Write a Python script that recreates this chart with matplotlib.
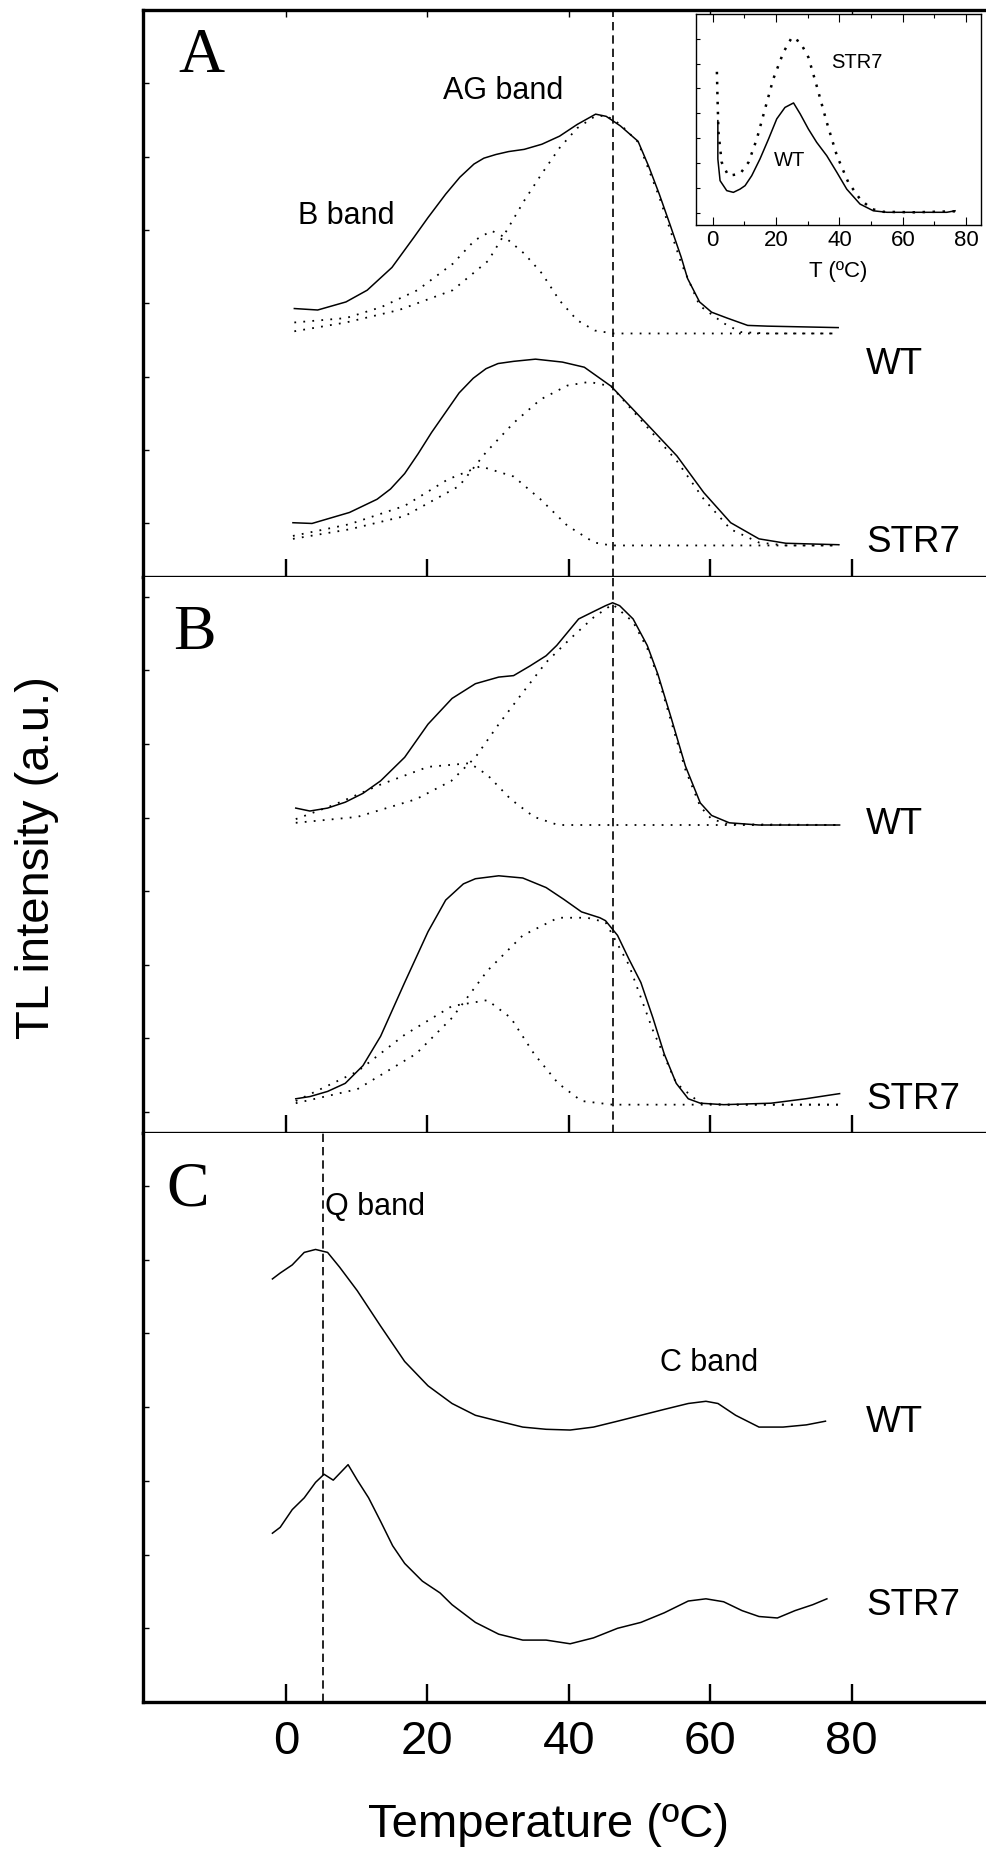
import matplotlib.pyplot as plt

plt.rcParams['font.family'] = ['Liberation Sans', 'DejaVu Sans']

# ---------------- data (TL intensity, a.u.) ----------------
# Panel A - WT (upper trace) and its B / AG band components
a_wt_t = [1.2, 4.5, 8.5, 11.5, 15.0, 18.1, 20.1, 22.6, 24.6, 26.6, 28.0, 29.7, 31.5, 33.7, 36.2, 38.7,
          41.2, 43.8, 45.3, 47.3, 49.8, 51.3, 52.8, 54.3, 55.9, 56.8, 58.5, 60.2, 62.4, 65.3, 68.1, 78.1]
a_wt_y = [2.93, 2.91, 3.02, 3.18, 3.49, 3.90, 4.17, 4.49, 4.72, 4.90, 4.98, 5.03, 5.07, 5.10, 5.17, 5.28,
          5.44, 5.58, 5.55, 5.42, 5.21, 4.87, 4.49, 4.08, 3.63, 3.34, 3.02, 2.88, 2.80, 2.70, 2.69, 2.67]
a_wt_b_t = [1.2, 8.5, 13.5, 18.6, 23.6, 26.7, 29.1, 31.0, 33.7, 36.2, 38.7, 41.2, 43.7, 46.3, 78.1]
a_wt_b_y = [2.74, 2.80, 2.95, 3.18, 3.54, 3.86, 3.99, 3.90, 3.68, 3.41, 3.04, 2.77, 2.63, 2.59, 2.59]
a_wt_ag_t = [1.2, 8.5, 16.0, 23.6, 28.6, 31.2, 33.7, 36.2, 38.7, 41.2, 43.7, 45.3, 47.3, 49.8,
             52.8, 55.9, 58.5, 61.9, 64.3, 68.0, 78.1]
a_wt_ag_y = [2.62, 2.74, 2.91, 3.18, 3.58, 3.99, 4.40, 4.77, 5.12, 5.39, 5.55, 5.56, 5.44, 5.20,
             4.45, 3.55, 2.97, 2.73, 2.61, 2.59, 2.59]

# Panel A - STR7 (lower trace)
a_str_t = [1.0, 3.7, 9.0, 12.9, 14.8, 16.8, 18.7, 20.6, 24.5, 26.5, 28.3, 30.0, 32.2, 35.3, 39.1, 42.2,
           46.0, 51.4, 55.3, 59.1, 62.9, 66.9, 70.7, 78.2]
a_str_y = [0.01, 0.00, 0.15, 0.33, 0.47, 0.68, 0.95, 1.24, 1.78, 1.98, 2.11, 2.18, 2.21, 2.24, 2.20, 2.13,
           1.87, 1.32, 0.92, 0.42, 0.01, -0.21, -0.27, -0.29]
a_str_b_t = [1.0, 9.0, 16.8, 22.9, 27.5, 32.2, 36.0, 39.8, 43.6, 46.0, 78.2]
a_str_b_y = [-0.17, -0.01, 0.24, 0.60, 0.78, 0.64, 0.33, -0.03, -0.26, -0.30, -0.30]
a_str_ag_t = [1.0, 9.0, 16.8, 24.5, 28.3, 32.2, 36.0, 39.8, 42.9, 46.0, 51.4, 55.3, 59.1, 62.9,
              66.9, 70.7, 78.2]
a_str_ag_y = [-0.21, -0.08, 0.10, 0.51, 0.97, 1.37, 1.69, 1.88, 1.93, 1.87, 1.28, 0.85, 0.33, -0.08,
              -0.26, -0.30, -0.30]

# Panel B - WT
b_wt_t = [1.4, 3.4, 5.9, 8.4, 10.9, 13.4, 16.8, 20.1, 23.5, 26.8, 30.1, 32.2, 34.5, 36.8, 38.3,
          41.4, 43.5, 45.2, 46.2, 47.2, 49.1, 51.1, 52.6, 54.5, 56.5, 58.6, 60.2, 62.7, 66.9, 78.3]
b_wt_y = [4.13, 4.09, 4.13, 4.21, 4.33, 4.50, 4.82, 5.27, 5.62, 5.82, 5.91, 5.93, 6.06, 6.20, 6.34,
          6.70, 6.80, 6.88, 6.92, 6.88, 6.70, 6.34, 5.95, 5.35, 4.70, 4.20, 4.03, 3.93, 3.90, 3.90]
b_wt_b_t = [1.4, 6.7, 13.4, 20.1, 26.0, 28.5, 31.8, 35.1, 38.5, 78.3]
b_wt_b_y = [3.98, 4.17, 4.45, 4.69, 4.74, 4.58, 4.25, 4.01, 3.90, 3.90]
b_wt_ag_t = [1.4, 10.1, 18.4, 23.4, 26.8, 30.1, 33.5, 36.8, 40.2, 43.5, 46.2, 49.1, 51.1, 52.6,
             54.5, 56.5, 58.6, 60.2, 62.7, 78.3]
b_wt_ag_y = [3.93, 4.01, 4.25, 4.50, 4.82, 5.27, 5.70, 6.11, 6.43, 6.72, 6.90, 6.66, 6.30, 5.92,
             5.30, 4.65, 4.15, 3.98, 3.91, 3.90]

# Panel B - STR7
b_str_t = [1.4, 3.4, 5.9, 8.4, 10.9, 13.4, 16.8, 20.1, 22.6, 25.1, 26.8, 30.1, 33.5, 36.8, 39.3,
           41.8, 44.4, 45.2, 46.9, 48.5, 50.2, 51.9, 53.5, 55.2, 56.9, 58.6, 61.9, 68.6, 73.5, 76.9, 78.3]
b_str_y = [0.18, 0.21, 0.28, 0.39, 0.63, 1.03, 1.76, 2.45, 2.88, 3.10, 3.17, 3.21, 3.18, 3.05, 2.89,
           2.72, 2.64, 2.60, 2.40, 2.08, 1.76, 1.28, 0.79, 0.39, 0.18, 0.12, 0.10, 0.12, 0.18, 0.23, 0.25]
b_str_b_t = [1.4, 10.1, 16.8, 23.5, 28.5, 31.8, 35.1, 38.5, 41.8, 46.2, 78.3]
b_str_b_y = [0.15, 0.55, 1.05, 1.44, 1.52, 1.28, 0.79, 0.39, 0.15, 0.10, 0.10]
b_str_ag_t = [1.4, 10.1, 18.4, 23.5, 28.5, 33.5, 38.5, 42.6, 45.2, 48.5, 51.9, 55.2, 58.6, 62.0, 78.3]
b_str_ag_y = [0.12, 0.31, 0.79, 1.28, 1.92, 2.40, 2.64, 2.64, 2.58, 2.00, 1.11, 0.39, 0.12, 0.10, 0.10]

# Panel C - WT and STR7 (Q band and C band)
c_wt_t = [-1.9, -0.8, 0.9, 2.6, 4.2, 5.9, 7.6, 10.1, 13.4, 16.8, 20.1, 23.5, 26.8, 30.1, 33.5, 36.8,
          40.2, 43.5, 46.9, 50.2, 53.5, 56.9, 59.4, 61.1, 63.6, 66.9, 70.3, 73.6, 76.3]
c_wt_y = [5.74, 5.82, 5.93, 6.10, 6.14, 6.10, 5.90, 5.58, 5.10, 4.62, 4.29, 4.05, 3.89, 3.81, 3.73,
          3.70, 3.69, 3.73, 3.81, 3.89, 3.97, 4.05, 4.08, 4.05, 3.89, 3.73, 3.73, 3.76, 3.81]
c_str_t = [-1.9, -0.8, 0.9, 2.6, 4.2, 5.4, 6.7, 8.8, 10.1, 11.7, 13.4, 15.1, 16.8, 19.3, 21.8, 23.5,
           26.8, 30.1, 33.5, 36.8, 40.2, 43.5, 46.9, 50.2, 53.5, 56.9, 59.4, 61.9, 64.5, 66.9, 69.5,
           72.0, 74.5, 76.5]
c_str_y = [2.29, 2.37, 2.61, 2.77, 2.98, 3.09, 3.01, 3.22, 3.01, 2.77, 2.45, 2.12, 1.88, 1.64, 1.48,
           1.32, 1.08, 0.92, 0.84, 0.84, 0.79, 0.87, 1.00, 1.08, 1.21, 1.37, 1.40, 1.36, 1.24, 1.16,
           1.14, 1.24, 1.32, 1.40]

# Inset - full glow curves
ins_wt_t = [1.6, 1.6, 2.3, 4.4, 6.5, 8.6, 10.2, 12.3, 14.9, 17.6, 20.2, 22.8, 25.5, 27.6, 30.2, 32.8,
            36.0, 39.2, 42.3, 46.5, 50.7, 55.0, 73.9, 76.5]
ins_wt_y = [3.71, 2.17, 1.30, 0.90, 0.83, 0.96, 1.10, 1.50, 2.17, 2.97, 3.78, 4.24, 4.42, 3.98, 3.37,
            2.84, 2.30, 1.63, 0.96, 0.36, 0.09, 0.03, 0.03, 0.09]
ins_str_t = [1.3, 1.5, 1.8, 2.8, 4.9, 8.6, 11.3, 13.9, 16.5, 19.1, 22.3, 25.0, 27.6, 30.2, 32.8, 36.0,
             39.2, 42.8, 46.5, 50.2, 53.9, 63.4, 76.5]
ins_str_y = [5.67, 4.58, 3.24, 2.04, 1.50, 1.57, 2.04, 2.97, 4.18, 5.38, 6.45, 7.06, 6.86, 6.25, 5.11,
             3.64, 2.30, 1.23, 0.56, 0.16, 0.05, 0.03, 0.07]

ag_peak = 46.3   # dashed line through panels A and B
q_peak = 5.3     # dashed line in panel C
xticks = [0, 20, 40, 60, 80]

# ---------------- layout ----------------
W, H = 986, 1858
fig = plt.figure(figsize=(W / 100, H / 100), dpi=100)


def px(x, y):
    return x / W, 1 - y / H


def add_panel(top, bottom):
    x0, y0 = px(143, bottom)
    return fig.add_axes([x0, y0, 1 - x0, (bottom - top) / H])


axA = add_panel(11, 578)
axB = add_panel(578, 1134)
axC = add_panel(1134, 1703)

solid = dict(color='black', lw=1.1)
dotted = dict(color='black', lw=1.3, linestyle=(0, (1, 4)))
dash = dict(color='black', lw=1.2, linestyle=(0, (5, 3)))

axA.plot(a_wt_t, a_wt_y, **solid)
axA.plot(a_wt_b_t, a_wt_b_y, **dotted)
axA.plot(a_wt_ag_t, a_wt_ag_y, **dotted)
axA.plot(a_str_t, a_str_y, **solid)
axA.plot(a_str_b_t, a_str_b_y, **dotted)
axA.plot(a_str_ag_t, a_str_ag_y, **dotted)

axB.plot(b_wt_t, b_wt_y, **solid)
axB.plot(b_wt_b_t, b_wt_b_y, **dotted)
axB.plot(b_wt_ag_t, b_wt_ag_y, **dotted)
axB.plot(b_str_t, b_str_y, **solid)
axB.plot(b_str_b_t, b_str_b_y, **dotted)
axB.plot(b_str_ag_t, b_str_ag_y, **dotted)

axC.plot(c_wt_t, c_wt_y, **solid)
axC.plot(c_str_t, c_str_y, **solid)

axA.axvline(ag_peak, **dash)
axB.axvline(ag_peak, **dash)
axC.axvline(q_peak, **dash)

axA.set_ylim(-0.73, 6.95)
axB.set_ylim(-0.285, 7.27)
axC.set_ylim(0, 7.72)

for ax in (axA, axB, axC):
    ax.set_xlim(-20.2, 99.0)
    ax.set_xticks(xticks)
    ax.set_yticks(range(0, 8))
    ax.spines['right'].set_visible(False)
    for s in ('left', 'bottom', 'top'):
        ax.spines[s].set_linewidth(2.4)
    ax.tick_params(axis='x', direction='in', length=13, width=1.7, labelbottom=False)
    ax.tick_params(axis='y', direction='in', length=4, width=1.0, labelleft=False)
axB.spines['top'].set_visible(False)
axC.spines['top'].set_visible(False)
axC.tick_params(axis='x', labelbottom=True, labelsize=34, pad=12)

topx = axA.secondary_xaxis('top')
topx.set_xticks(xticks)
topx.spines['top'].set_visible(False)
topx.tick_params(direction='in', length=5, width=1.0, labeltop=False)

# inset
ix0, iy0 = px(696, 226)
axI = fig.add_axes([ix0, iy0, (981 - 696) / W, (226 - 15) / H])
axI.plot(ins_wt_t, ins_wt_y, color='black', lw=1.1)
axI.plot(ins_str_t, ins_str_y, color='black', lw=1.8, linestyle=(0, (1, 3)))
axI.set_xlim(-5.3, 84.7)
axI.set_ylim(-0.48, 7.99)
axI.set_xticks(xticks)
axI.set_xticks([10, 30, 50, 70], minor=True)
axI.set_yticks(range(0, 8))
for s in axI.spines.values():
    s.set_linewidth(1.0)
axI.tick_params(axis='x', which='major', direction='in', length=6, width=0.8, top=True,
                labelsize=16, pad=3)
axI.tick_params(axis='x', which='minor', direction='in', length=3, width=0.8, top=True)
axI.tick_params(axis='y', direction='in', length=3, width=0.8, labelleft=False)
axI.set_xlabel('T (ºC)', fontsize=16, labelpad=7)
axI.text(*px(857, 62), 'STR7', transform=fig.transFigure, fontsize=14.5, ha='center', va='center')
axI.text(*px(790, 160), 'WT', transform=fig.transFigure, fontsize=14.5, ha='center', va='center')

# panel letters and labels
serif = ['Liberation Serif', 'DejaVu Serif']
fig.text(*px(201, 57), 'A', family=serif, fontsize=46, ha='center', va='center')
fig.text(*px(194, 634), 'B', family=serif, fontsize=46, ha='center', va='center')
fig.text(*px(188, 1190), 'C', family=serif, fontsize=46, ha='center', va='center')

fig.text(*px(503, 91), 'AG band', fontsize=22, ha='center', va='center')
fig.text(*px(346, 216), 'B band', fontsize=22, ha='center', va='center')
fig.text(*px(325, 1207), 'Q band', fontsize=22, ha='left', va='center')
fig.text(*px(709, 1363), 'C band', fontsize=22, ha='center', va='center')

for y, lab in [(365, 'WT'), (543, 'STR7'), (824, 'WT'), (1100, 'STR7'), (1422, 'WT'), (1606, 'STR7')]:
    fig.text(*px(866, y), lab, fontsize=26.5, ha='left', va='center')

fig.text(*px(37, 858), 'TL intensity (a.u.)', fontsize=34, rotation=90, ha='center', va='center')
fig.text(*px(548, 1825), 'Temperature (ºC)', fontsize=34, ha='center', va='center')

fig.savefig('out.png', dpi=100)
